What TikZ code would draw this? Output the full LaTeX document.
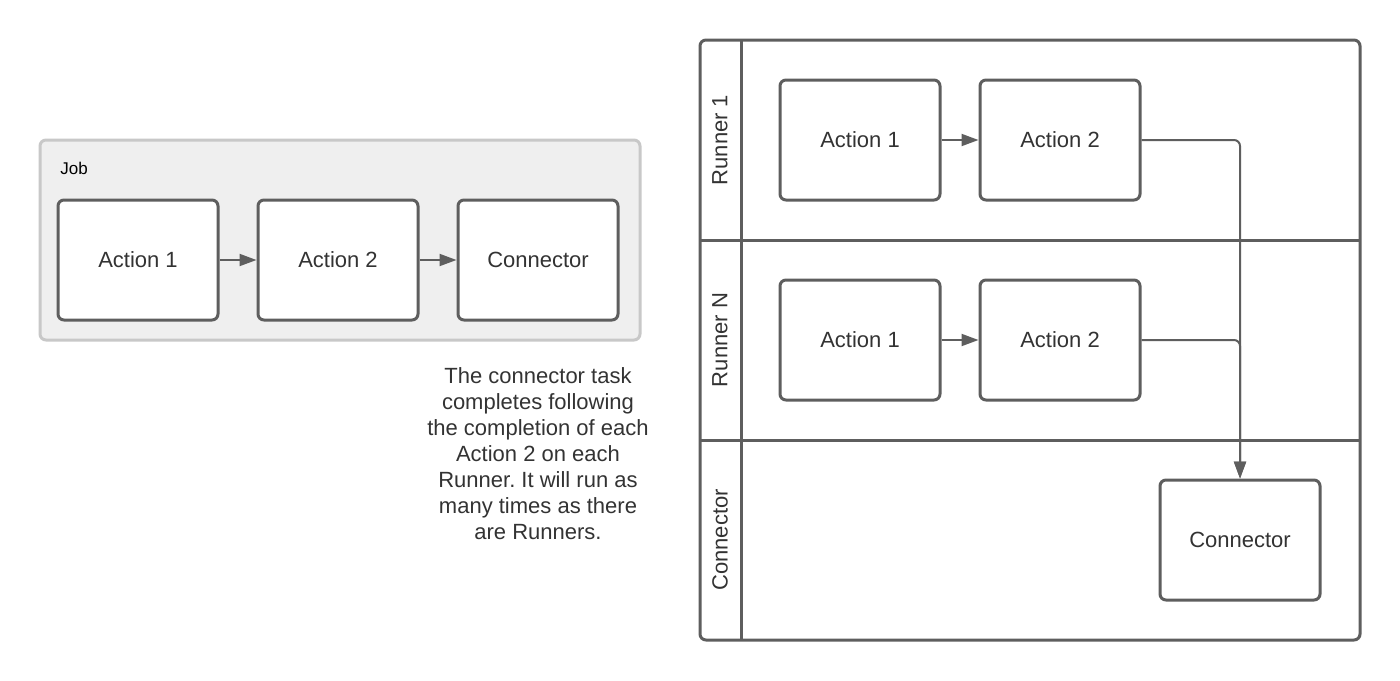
\documentclass[tikz,border=0pt]{standalone}
\usepackage{fontspec}
\setmainfont{Liberation Sans}
\usetikzlibrary{arrows.meta}
\frenchspacing
\definecolor{strokegray}{HTML}{5E5E5E}
\definecolor{textgray}{HTML}{333333}
\definecolor{jobfill}{HTML}{EFEFEF}
\definecolor{jobborder}{HTML}{C8C8C8}
\begin{document}
\begin{tikzpicture}[x=0.5pt,y=-0.5pt,
  actbox/.style={draw=strokegray, line width=1.5pt, fill=white, rounded corners=3pt,
    minimum width=80pt, minimum height=60pt, text=textgray,
    font=\fontsize{11}{13}\selectfont, inner sep=0pt},
  flow/.style={draw=strokegray, line width=1pt, -{Triangle[length=8.5pt,width=6pt]}},
  lanelbl/.style={rotate=90, text=textgray, font=\fontsize{11}{13}\selectfont},
  lane/.style={draw=strokegray, line width=1.5pt}
]
\useasboundingbox[fill=white] (0,0) rectangle (1400,680);
% Job container
\node[draw=jobborder, line width=1.5pt, fill=jobfill, rounded corners=3pt,
  minimum width=300pt, minimum height=100pt, inner sep=0pt] (job) at (340,240) {};
\node[anchor=west, inner sep=0pt, text=black, font=\fontsize{8.5}{10}\selectfont] (joblbl) at (60,168) {Job};
\node[actbox] (ja1) at (138,260) {Action 1};
\node[actbox] (ja2) at (338,260) {Action 2};
\node[actbox] (jc) at (538,260) {Connector};
\draw[flow] (ja1) -- (ja2);
\draw[flow] (ja2) -- (jc);
% note
\node[text=textgray, align=center, font=\fontsize{11}{13}\selectfont] (note) at (538,454)
  {The connector task\\completes following\\the completion of each\\Action 2 on each\\Runner. It will run as\\many times as there\\are Runners.};
% swimlanes
\draw[lane, rounded corners=3pt] (700,40) rectangle (1360,640);
\draw[lane] (741,40) -- (741,640);
\draw[lane] (700,240) -- (1360,240);
\draw[lane] (700,440) -- (1360,440);
\node[lanelbl] (l1) at (720,140) {Runner 1};
\node[lanelbl] (l2) at (720,340) {Runner N};
\node[lanelbl] (l3) at (720,540) {Connector};
\node[actbox] (r1a1) at (860,140) {Action 1};
\node[actbox] (r1a2) at (1060,140) {Action 2};
\node[actbox] (rna1) at (860,340) {Action 1};
\node[actbox] (rna2) at (1060,340) {Action 2};
\node[actbox] (rc) at (1240,540) {Connector};
\draw[flow] (r1a1) -- (r1a2);
\draw[flow] (rna1) -- (rna2);
\draw[flow, rounded corners=3pt] (r1a2.east) -| (rc.north);
\draw[flow, rounded corners=3pt] (rna2.east) -| (rc.north);
\end{tikzpicture}
\end{document}
